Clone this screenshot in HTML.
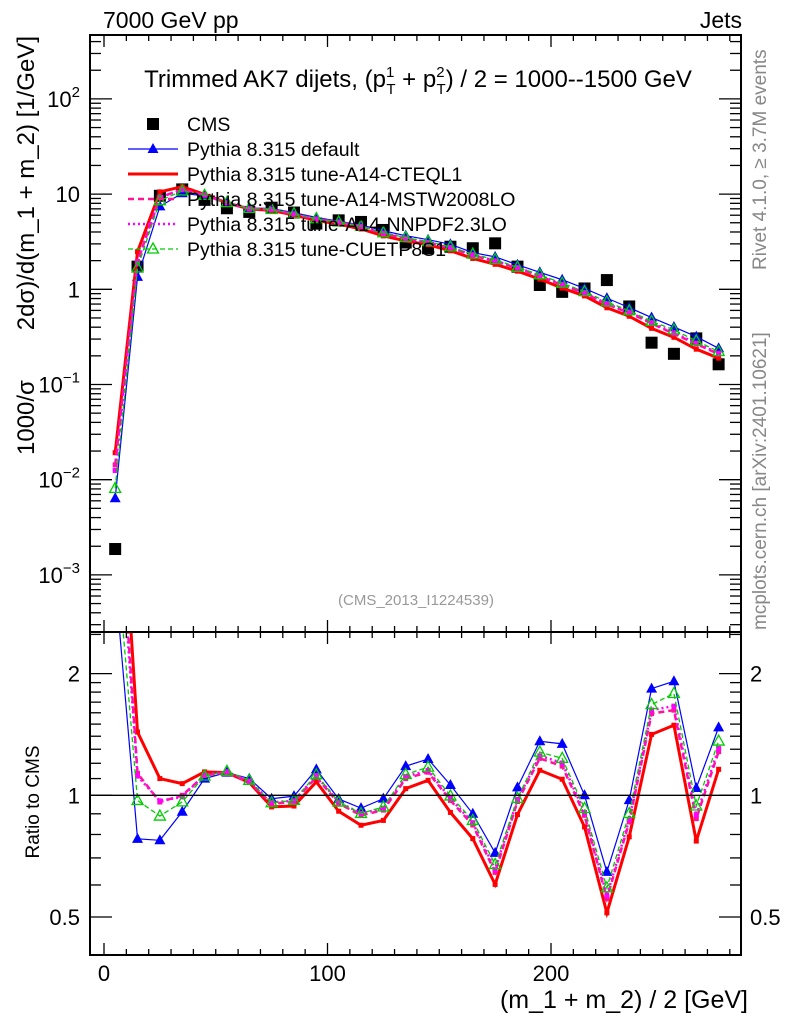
<!DOCTYPE html>
<html><head><meta charset="utf-8"><style>
body{margin:0;background:#fff;}
svg{display:block;font-family:"Liberation Sans",sans-serif;}
</style></head><body>
<svg id="chart" width="786" height="1024" viewBox="0 0 786 1024" xmlns="http://www.w3.org/2000/svg">
<rect width="786" height="1024" fill="#fff"/>
<text x="103" y="28" font-size="23">7000 GeV pp</text>
<text x="742" y="28" font-size="23" text-anchor="end">Jets</text>
<text x="418" y="87" font-size="24" text-anchor="middle">Trimmed AK7 dijets, (p<tspan font-size="15" dy="-10">1</tspan><tspan font-size="15" dx="-8" dy="17">T</tspan><tspan dy="-7"> + p</tspan><tspan font-size="15" dy="-10">2</tspan><tspan font-size="15" dx="-8" dy="17">T</tspan><tspan dy="-7">) / 2 = 1000--1500 GeV</tspan></text>
<text x="416" y="605" font-size="15" fill="#999" text-anchor="middle">(CMS_2013_I1224539)</text>
<text transform="translate(766,270) rotate(-90)" font-size="19" fill="#888">Rivet 4.1.0, ≥ 3.7M events</text>
<text transform="translate(766,630) rotate(-90)" font-size="19" fill="#888">mcplots.cern.ch [arXiv:2401.10621]</text>
<text transform="translate(34,36) rotate(-90)" font-size="24" text-anchor="end">2dσ)/d(m_1 + m_2) [1/GeV]</text>
<text transform="translate(34,455) rotate(-90)" font-size="24">1000/σ</text>
<text transform="translate(39,802) rotate(-90)" font-size="19" text-anchor="middle">Ratio to CMS</text>
<text x="748" y="1008" font-size="25" text-anchor="end">(m_1 + m_2) / 2 [GeV]</text>
<defs>
<clipPath id="cm"><rect x="90" y="35" width="651" height="597"/></clipPath>
<clipPath id="cr"><rect x="90" y="632" width="651" height="323"/></clipPath>
</defs>
<g id="main" clip-path="url(#cm)"></g>
<g id="ratio" clip-path="url(#cr)"></g>
<g id="axes"></g>
<g id="legend"></g>
</svg>
<script>
const bins = [5,15,25,35,45,55,65,75,85,95,105,115,125,135,145,155,165,175,185,195,205,215,225,235,245,255,265,275];
const cmsValues = [0.00187,1.73,9.6,11.2,8.7,7.1,6.5,7.2,6.4,4.9,5.3,5.1,4.2,3.1,2.7,2.8,2.7,3.04,1.73,1.11,0.94,1.02,1.25,0.66,0.275,0.21,0.305,0.163];
const defaultValues = [0.00638,1.35,7.43,10.2,9.57,8.08,7.15,7.06,6.37,5.68,5.19,4.74,4.12,3.66,3.32,2.97,2.43,2.19,1.81,1.51,1.26,1.02,0.808,0.642,0.505,0.402,0.318,0.240];
const cteqValues = [0.0192,2.48,10.56,11.97,9.94,8.08,6.99,6.74,6.02,5.29,4.84,4.30,3.64,3.22,2.94,2.54,2.11,1.83,1.55,1.28,1.03,0.852,0.64,0.521,0.389,0.313,0.235,0.189];
const mstwValues = [0.0143,1.96,9.24,11.2,9.74,8.08,7.01,6.87,6.16,5.44,5.06,4.55,3.86,3.41,3.08,2.72,2.28,1.96,1.67,1.37,1.11,0.91,0.694,0.567,0.438,0.341,0.267,0.209];
const nnpdfValues = [0.0125,1.93,9.3,11.1,9.78,8.12,7.05,6.92,6.2,5.48,5.1,4.6,3.9,3.45,3.11,2.75,2.31,1.99,1.69,1.39,1.13,0.925,0.705,0.575,0.447,0.349,0.272,0.213];
const cuetValues = [0.0081,1.68,8.53,10.79,9.71,8.14,7.08,6.90,6.22,5.51,5.10,4.60,3.93,3.49,3.17,2.79,2.34,2.05,1.70,1.42,1.16,0.946,0.738,0.595,0.461,0.375,0.287,0.222];
const xTicks = [0,100,200];
const mainYTicks = [-3,-2,-1,0,1,2];
const ratioTicks = [0.5,1,2];

const NS="http://www.w3.org/2000/svg";
const X = v => 104 + v*2.235;
const Ym = v => 289.3 - 95.2*Math.log10(v);
const Yr = r => 795.3 - 121.7*Math.log2(r);
function mk(tag, attrs, parent){const e=document.createElementNS(NS,tag);for(const k in attrs)e.setAttribute(k,attrs[k]);parent.appendChild(e);return e;}
const main=document.getElementById('main'), ratio=document.getElementById('ratio'), axes=document.getElementById('axes'), legend=document.getElementById('legend');

const series=[
 {name:'pythia-default',vals:defaultValues,color:'#0000ff',w:1.2,dash:'',marker:'tri'},
 {name:'pythia-a14-cteql1',vals:cteqValues,color:'#ff0000',w:3,dash:'',marker:'sq'},
 {name:'pythia-a14-mstw2008lo',vals:mstwValues,color:'#ff1493',w:2.5,dash:'6,4',marker:'sq'},
 {name:'pythia-a14-nnpdf23lo',vals:nnpdfValues,color:'#ff00ff',w:2.5,dash:'2,3',marker:'sq'},
 {name:'pythia-cuetp8s1',vals:cuetValues,color:'#00cc00',w:1.3,dash:'5,3',marker:'otri'}
];
function marker(g,type,x,y,color){
 let e;
 if(type==='tri'){e=mk('polygon',{points:`${x},${y-6} ${x-5.5},${y+4} ${x+5.5},${y+4}`,fill:color},g);}
 else if(type==='otri'){e=mk('polygon',{points:`${x},${y-6} ${x-5.5},${y+4} ${x+5.5},${y+4}`,fill:'none',stroke:color,'stroke-width':1.3},g);}
 else {e=mk('rect',{x:x-2.5,y:y-2.5,width:5,height:5,fill:color},g);}
 return e;
}
cmsValues.forEach((v,i)=>{
 const r=mk('rect',{x:X(bins[i])-6,y:Ym(v)-6,width:12,height:12,fill:'#000'},main);
 
 
});
series.forEach(s=>{
 const pm=bins.map((b,i)=>`${X(b)},${Ym(s.vals[i])}`).join(' ');
 const l=mk('polyline',{points:pm,fill:'none',stroke:s.color,'stroke-width':s.w,'stroke-dasharray':s.dash},main);
 
 
 const pr=bins.map((b,i)=>`${X(b)},${Yr(s.vals[i]/cmsValues[i])}`).join(' ');
 const lr=mk('polyline',{points:pr,fill:'none',stroke:s.color,'stroke-width':s.w,'stroke-dasharray':s.dash},ratio);
 
 
 bins.forEach((b,i)=>{
  const m1=marker(main,s.marker,X(b),Ym(s.vals[i]),s.color);
  
  
  const m2=marker(ratio,s.marker,X(b),Yr(s.vals[i]/cmsValues[i]),s.color);
  
  
 });
});
const one=mk('line',{x1:90,x2:741,y1:Yr(1),y2:Yr(1),stroke:'#000','stroke-width':1.3},axes);


[[35,632],[632,955]].forEach(([t,b],k)=>{
 const f=mk('rect',{x:90,y:t,width:651,height:b-t,fill:'none',stroke:'#000','stroke-width':2},axes);
 
 
});
for(let v=0;v<=280;v+=10){
 const maj=v%100===0, len=maj?12:6;
 [[35,1],[632,-1],[632,1],[955,-1]].forEach(([y,d])=>{mk('line',{x1:X(v),x2:X(v),y1:y,y2:y+d*len,stroke:'#000','stroke-width':1.3},axes);});
}
xTicks.forEach(v=>{
 const t=mk('text',{x:X(v),y:981,'font-size':22,'text-anchor':'middle'},axes);
 t.textContent=String(v);
 
 
});
for(let e=-4;e<=2;e++){
 for(let m=1;m<10;m++){
  const v=m*Math.pow(10,e), y=Ym(v);
  if(y<35||y>632)continue;
  const len=m===1?22:11;
  mk('line',{x1:90,x2:90+len,y1:y,y2:y,stroke:'#000','stroke-width':1.3},axes);
  mk('line',{x1:741,x2:741-len,y1:y,y2:y,stroke:'#000','stroke-width':1.3},axes);
 }
}
mainYTicks.forEach(e=>{
 const y=Ym(Math.pow(10,e));
 const t=mk('text',{x:80,y:y+8,'font-size':22,'text-anchor':'end'},axes);
 
 
 if(e===0){t.textContent='1';}
 else if(e===1){t.textContent='10';}
 else{t.textContent='10';const s=document.createElementNS(NS,'tspan');s.setAttribute('font-size','15');s.setAttribute('dy','-10');s.textContent=(e<0?'−':'')+Math.abs(e);t.appendChild(s);}
});
[0.5,0.6,0.7,0.8,0.9,1,1.1,1.2,1.3,1.4,1.5,1.6,1.7,1.8,1.9,2,2.5].forEach(r=>{
 const y=Yr(r); if(y<632||y>955)return;
 const maj=ratioTicks.includes(r), len=maj?22:11;
 mk('line',{x1:90,x2:90+len,y1:y,y2:y,stroke:'#000','stroke-width':1.3},axes);
 mk('line',{x1:741,x2:741-len,y1:y,y2:y,stroke:'#000','stroke-width':1.3},axes);
});
ratioTicks.forEach(r=>{
 const t=mk('text',{x:80,y:Yr(r)+8,'font-size':22,'text-anchor':'end'},axes);
 t.textContent=String(r);
 
 
 const t2=mk('text',{x:750,y:Yr(r)+8,'font-size':22},axes);
 t2.textContent=String(r);
 
 
});
const labels=['CMS','Pythia 8.315 default','Pythia 8.315 tune-A14-CTEQL1','Pythia 8.315 tune-A14-MSTW2008LO','Pythia 8.315 tune-A14-NNPDF2.3LO','Pythia 8.315 tune-CUETP8S1'];
labels.forEach((lab,i)=>{
 const y=124+i*25;
 const g=mk('g',{},legend);
 
 
 if(i===0){mk('rect',{x:147,y:y-6,width:12,height:12,fill:'#000'},g);}
 else{
  const s=series[i-1];
  mk('line',{x1:128,x2:178,y1:y,y2:y,stroke:s.color,'stroke-width':s.w,'stroke-dasharray':s.dash},g);
  if(s.marker!=='sq')marker(g,s.marker,153,y,s.color);
 }
 const t=mk('text',{x:187,y:y+7,'font-size':19.5},g);
 t.textContent=lab;
});
</script>
</body></html>
